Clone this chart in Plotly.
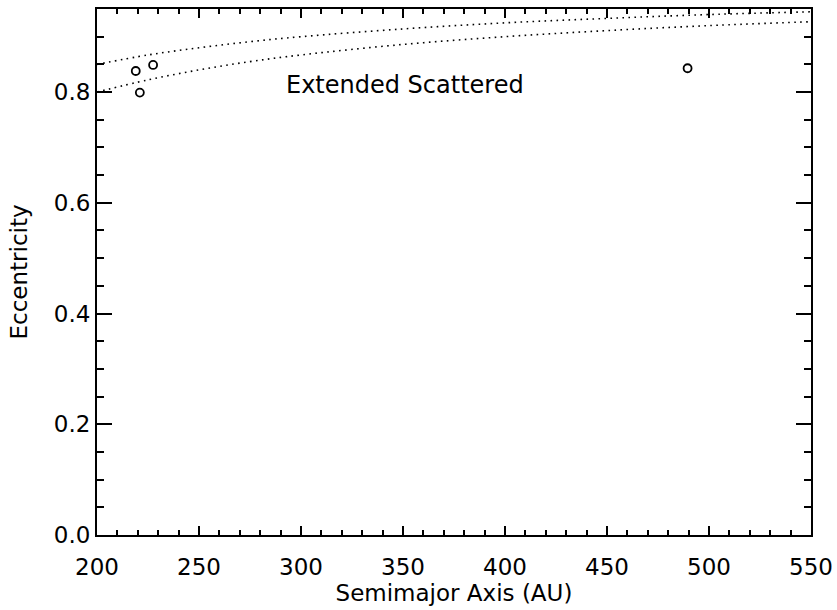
import plotly.graph_objects as go

# Objects (semimajor axis in AU, eccentricity)
obj_a = [219.0, 221.0, 227.5, 489.5]
obj_e = [0.838, 0.799, 0.849, 0.843]

# Boundary curves
curve_a = [200, 225, 250, 275, 300, 350, 400, 450, 500, 550]
upper_e = [0.850, 0.867, 0.880, 0.891, 0.900, 0.914, 0.925, 0.933, 0.940, 0.945]
lower_e = [0.800, 0.822, 0.840, 0.855, 0.867, 0.886, 0.900, 0.911, 0.920, 0.927]

label_text = "Extended Scattered"
label_a, label_e = 351, 0.812

x_ticks = [200, 250, 300, 350, 400, 450, 500, 550]
y_ticks = [0.0, 0.2, 0.4, 0.6, 0.8]

FONT = "DejaVu Sans"
FS = 23

def f(size=FS):
    return dict(family=FONT, size=size, color="black")

fig = go.Figure()
for ce in (upper_e, lower_e):
    fig.add_trace(go.Scatter(x=curve_a, y=ce, mode="lines", line_shape="spline",
                             line=dict(color="black", width=1.6, dash="1.6px,4.4px"),
                             showlegend=False, hoverinfo="skip"))
fig.add_trace(go.Scatter(x=obj_a, y=obj_e, mode="markers",
                         marker=dict(symbol="circle-open", size=8, color="black",
                                     line=dict(width=1.8, color="black")),
                         showlegend=False))

fig.add_annotation(x=label_a, y=label_e, text=label_text, showarrow=False, font=f(24))

axis_common = dict(showgrid=False, zeroline=False, showline=True, linecolor="black",
                   linewidth=2, mirror="allticks", ticks="inside", tickcolor="black",
                   automargin=False, tickfont=f())

fig.update_xaxes(range=[200, 550], tickvals=x_ticks, ticklen=9, tickwidth=1.5,
                 ticklabelstandoff=10,
                 minor=dict(dtick=10, ticklen=5, tickwidth=1.5, ticks="inside", tickcolor="black"),
                 title=dict(text="Semimajor Axis (AU)", font=f(), standoff=4),
                 **axis_common)
fig.update_yaxes(range=[0, 0.95], tickvals=y_ticks, ticktext=[f"{v:.1f}" for v in y_ticks],
                 ticklen=15, tickwidth=1.5,
                 minor=dict(dtick=0.05, ticklen=7, tickwidth=1.5, ticks="inside", tickcolor="black"),
                 title=dict(text="Eccentricity", font=f(), standoff=20),
                 **axis_common)

fig.update_layout(width=837, height=610, plot_bgcolor="white", paper_bgcolor="white",
                  margin=dict(l=97, r=26, t=9, b=75), showlegend=False)

# remove the default page margin so the figure fills the window exactly
fig.write_html("out.html", config={"displayModeBar": False},
               post_script="document.body.style.margin='0';document.body.style.overflow='hidden';")
